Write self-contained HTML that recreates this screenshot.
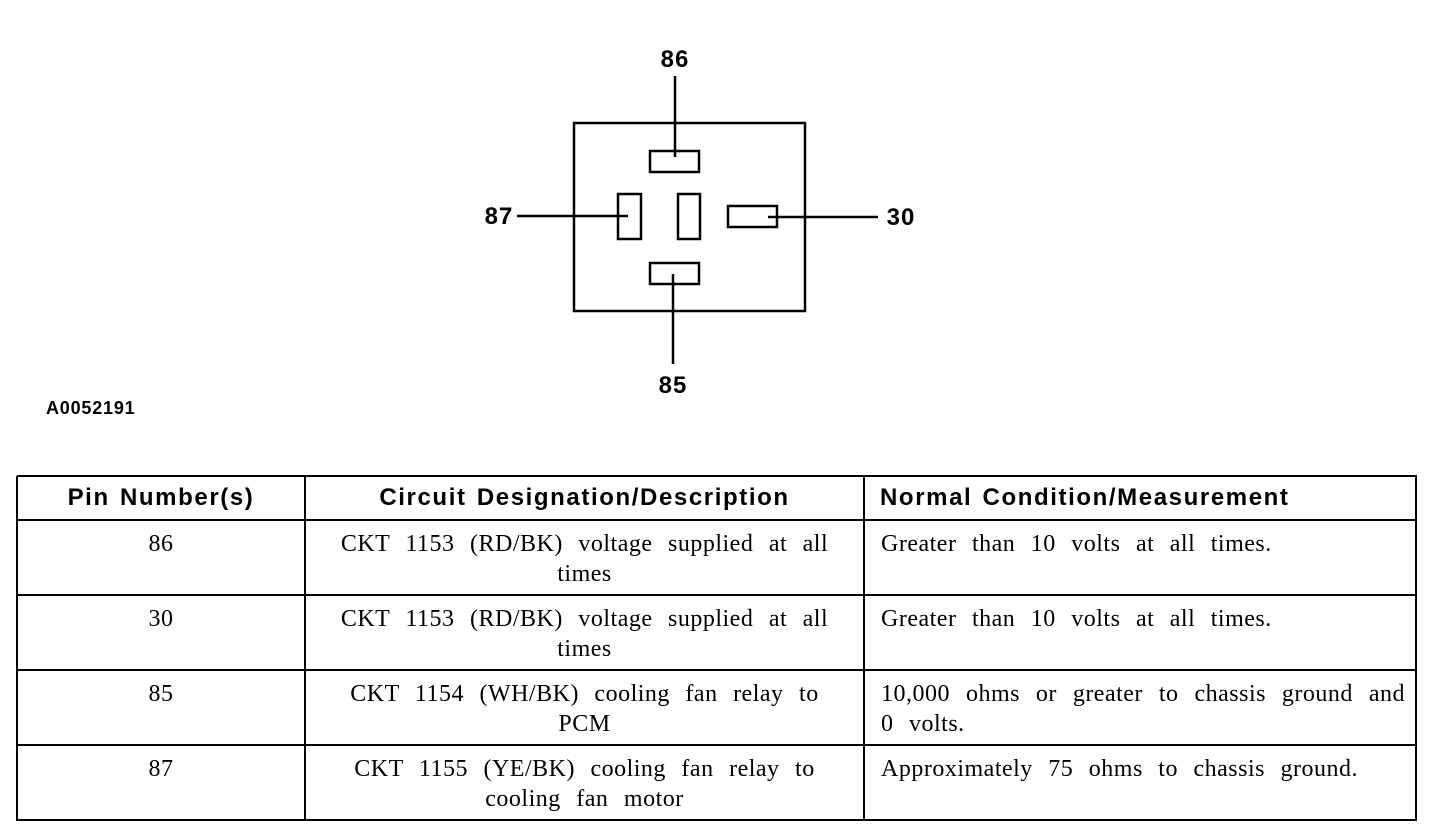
<!DOCTYPE html>
<html><head><meta charset="utf-8"><style>
body{margin:0;width:1456px;height:828px;background:#fff;position:relative;overflow:hidden;font-family:"Liberation Serif",serif;}
.c{position:absolute;box-sizing:border-box;font-size:24px;line-height:30px;color:#000;letter-spacing:0.5px;word-spacing:9px;white-space:nowrap;}
.h{font-family:"Liberation Sans",sans-serif;font-weight:bold;font-size:24px;line-height:44px;letter-spacing:1.6px;word-spacing:2px;}
.hl{position:absolute;background:#000;height:2px;left:17px;width:1400px;}
.vl{position:absolute;background:#000;width:2px;top:476px;height:345px;}
.j{text-align:justify;text-align-last:justify;width:524px;}
</style></head><body>
<svg width="1456" height="460" style="position:absolute;left:0;top:0" font-family="Liberation Sans, sans-serif" font-weight="bold">
<g fill="none" stroke="#000" stroke-width="2.5">
<rect x="574" y="123" width="231" height="188"/>
<rect x="650" y="151" width="49" height="21"/>
<rect x="618" y="194" width="23" height="45"/>
<rect x="678" y="194" width="22" height="45"/>
<rect x="728" y="206" width="49" height="21"/>
<rect x="650" y="263" width="49" height="21"/>
<line x1="675" y1="76" x2="675" y2="157"/>
<line x1="517" y1="216" x2="628" y2="216"/>
<line x1="768" y1="217" x2="878" y2="217"/>
<line x1="673" y1="274" x2="673" y2="364"/>
</g>
<g font-size="24" fill="#000" text-anchor="middle" letter-spacing="1">
<text x="675" y="67">86</text>
<text x="499" y="224">87</text>
<text x="901" y="225">30</text>
<text x="673" y="393">85</text>
</g>
<text x="46" y="414" font-size="18" fill="#000" letter-spacing="0.8">A0052191</text>
</svg>
<div class="hl" style="top:475px"></div>
<div class="hl" style="top:519px"></div>
<div class="hl" style="top:594px"></div>
<div class="hl" style="top:669px"></div>
<div class="hl" style="top:744px"></div>
<div class="hl" style="top:819px"></div>
<div class="vl" style="left:16px"></div>
<div class="vl" style="left:304px"></div>
<div class="vl" style="left:863px"></div>
<div class="vl" style="left:1415px"></div>
<div class="c h" style="left:17px;top:476px;width:288px;text-align:center">Pin Number(s)</div>
<div class="c h" style="left:305px;top:476px;width:559px;text-align:center">Circuit Designation/Description</div>
<div class="c h" style="left:880px;top:476px;width:536px">Normal Condition/Measurement</div>

<div class="c" style="left:17px;top:529px;width:288px;text-align:center">86</div>
<div class="c" style="left:305px;top:529px;width:559px;text-align:center">CKT 1153 (RD/BK) voltage supplied at all<br>times</div>
<div class="c" style="left:881px;top:529px">Greater than 10 volts at all times.</div>

<div class="c" style="left:17px;top:604px;width:288px;text-align:center">30</div>
<div class="c" style="left:305px;top:604px;width:559px;text-align:center">CKT 1153 (RD/BK) voltage supplied at all<br>times</div>
<div class="c" style="left:881px;top:604px">Greater than 10 volts at all times.</div>

<div class="c" style="left:17px;top:679px;width:288px;text-align:center">85</div>
<div class="c" style="left:305px;top:679px;width:559px;text-align:center">CKT 1154 (WH/BK) cooling fan relay to<br>PCM</div>
<div class="c j" style="left:881px;top:679px;white-space:normal">10,000 ohms or greater to chassis ground and</div>
<div class="c" style="left:881px;top:709px">0 volts.</div>

<div class="c" style="left:17px;top:754px;width:288px;text-align:center">87</div>
<div class="c" style="left:305px;top:754px;width:559px;text-align:center">CKT 1155 (YE/BK) cooling fan relay to<br>cooling fan motor</div>
<div class="c" style="left:881px;top:754px">Approximately 75 ohms to chassis ground.</div>
</body></html>
